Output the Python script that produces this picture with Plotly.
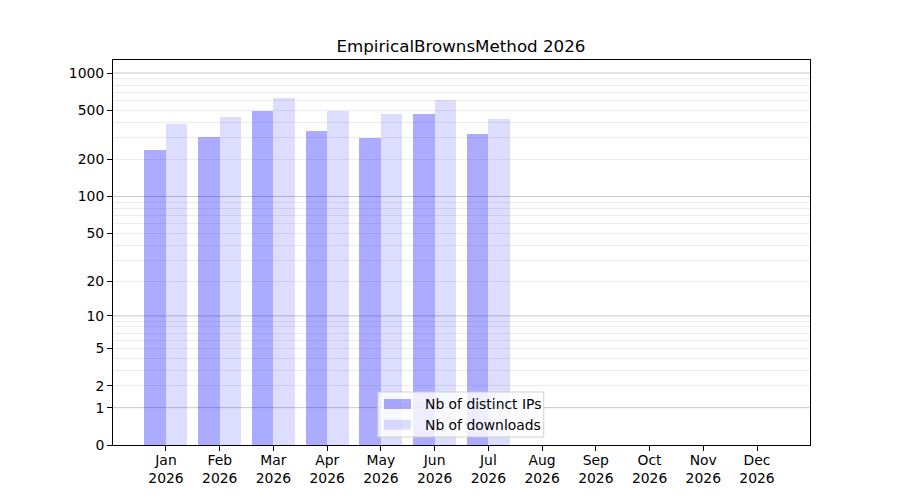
import numpy as np
import plotly.graph_objects as go

months = ["Jan", "Feb", "Mar", "Apr", "May", "Jun", "Jul", "Aug", "Sep", "Oct", "Nov", "Dec"]
year = "2026"
distinct_ips = [238, 304, 493, 340, 298, 466, 321]
downloads = [387, 441, 628, 493, 466, 605, 425]
series_names = ["Nb of distinct IPs", "Nb of downloads"]
series_colors = ["rgba(0,0,255,0.33)", "rgba(0,0,255,0.135)"]
y_tick_labels = [0, 1, 2, 5, 10, 20, 50, 100, 200, 500, 1000]
major_grid = [1, 10, 100, 1000]
minor_grid = [m * 10 ** k for k in range(0, 3) for m in range(2, 10)]


def fwd(v):
    return np.log10(1 + np.asarray(v, dtype=float))


x_idx = np.arange(len(months))
n = len(distinct_ips)

fig = go.Figure()
for offs, vals, name, col in [(-0.2, distinct_ips, series_names[0], series_colors[0]),
                               (0.2, downloads, series_names[1], series_colors[1])]:
    fig.add_trace(go.Bar(
        x=x_idx[:n] + offs, y=fwd(vals), width=0.4,
        marker=dict(color=col, line=dict(width=0)),
        name=name, showlegend=False,
        customdata=vals, hovertemplate="%{customdata}<extra></extra>",
    ))

shapes = []
for g in major_grid:
    shapes.append(dict(type="line", xref="paper", x0=0, x1=1, yref="y", y0=float(fwd(g)), y1=float(fwd(g)),
                       line=dict(color="rgba(0,0,0,0.22)", width=1), layer="below"))

# hand-built legend (matplotlib style)
shapes.append(dict(type="rect", xref="paper", yref="paper", x0=0.380, x1=0.618, y0=0.0208, y1=0.1377,
                   fillcolor="rgba(255,255,255,0.8)", line=dict(color="rgba(204,204,204,0.9)", width=1),
                   layer="above"))
legend_rows = [(0.0935, 0.1195, 0.1065), (0.0397, 0.0657, 0.0532)]
annotations = []
for (y0, y1, yc), name, col in zip(legend_rows, series_names, series_colors):
    shapes.append(dict(type="rect", xref="paper", yref="paper", x0=0.3888, x1=0.4275, y0=y0, y1=y1,
                       fillcolor=col, line=dict(width=0), layer="above"))
    annotations.append(dict(xref="paper", yref="paper", x=0.4448, y=yc, xanchor="left", yanchor="middle",
                            text=name, showarrow=False,
                            font=dict(family="DejaVu Sans", size=13.9, color="black")))

fig.update_layout(
    width=900, height=500,
    margin=dict(l=105, r=98, t=52, b=63),
    paper_bgcolor="white", plot_bgcolor="white",
    font=dict(family="DejaVu Sans", size=13.9, color="black"),
    title=dict(text="EmpiricalBrownsMethod 2026", x=0.5033, xanchor="center", y=0.924, yanchor="middle",
               font=dict(family="DejaVu Sans", size=16.7, color="black")),
    barmode="overlay",
    bargap=0,
    showlegend=False,
    shapes=shapes,
    annotations=annotations,
    xaxis=dict(
        range=[-0.986, 11.986],
        tickmode="array", tickvals=list(x_idx),
        ticktext=[f"{m}<br>{year}" for m in months],
        ticks="outside", ticklen=5, tickcolor="black",
        ticklabelstandoff=-3,
        showgrid=False, zeroline=False,
        showline=True, linecolor="black", linewidth=1, mirror=True,
        tickfont=dict(family="DejaVu Sans", size=13.9, color="black"),
    ),
    yaxis=dict(
        range=[0, float(fwd(1000)) + (float(fwd(1000)) / 372) * 13],
        tickmode="array", tickvals=list(fwd(y_tick_labels)),
        ticktext=[str(t) for t in y_tick_labels],
        ticks="outside", ticklen=5, tickcolor="black",
        showgrid=False, zeroline=False,
        showline=True, linecolor="black", linewidth=1, mirror=True,
        tickfont=dict(family="DejaVu Sans", size=13.9, color="black"),
        minor=dict(tickmode="array", tickvals=list(fwd(minor_grid)), showgrid=True,
                   gridcolor="rgba(0,0,0,0.07)", gridwidth=1, ticks=""),
    ),
)

fig.write_html("out.html")
